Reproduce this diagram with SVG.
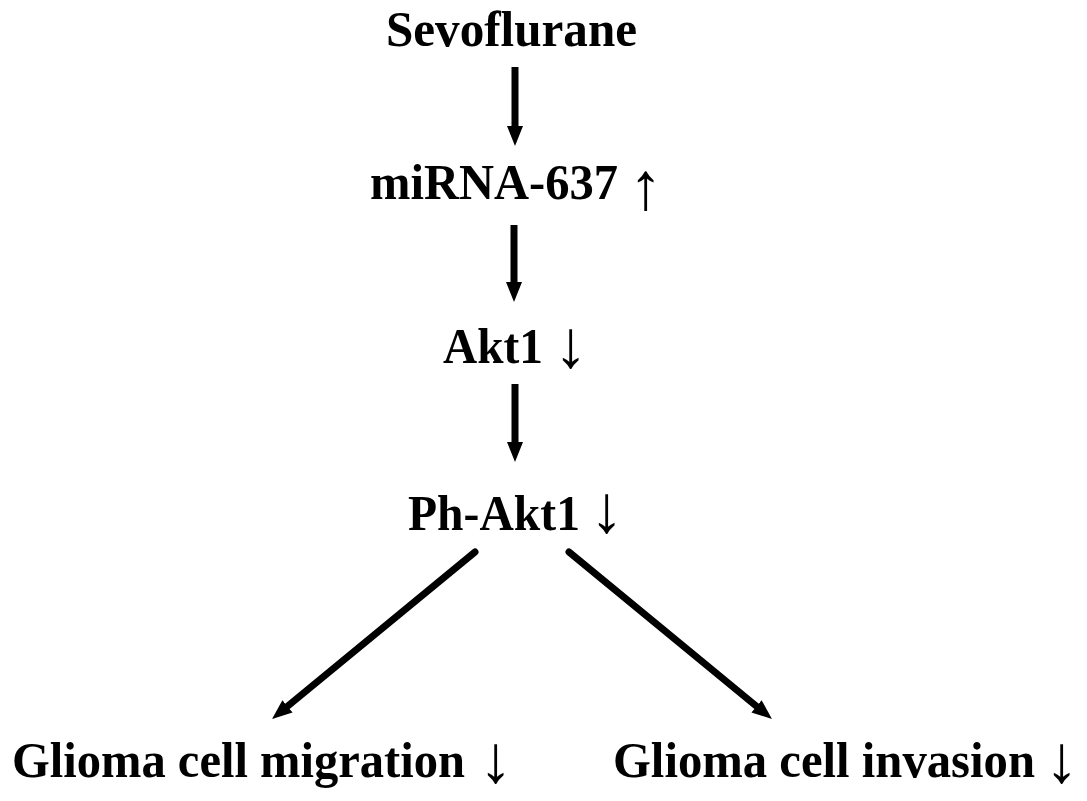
<svg xmlns="http://www.w3.org/2000/svg" width="1087" height="801" viewBox="0 0 1087 801">
<style>
.t{font-family:"Liberation Serif","Times New Roman",serif;font-weight:bold;font-size:50px;fill:#000}
.a{font-family:"Liberation Serif","Times New Roman",serif;font-weight:normal;font-size:67px;fill:#000}
.c{stroke:#000;stroke-width:7;fill:none}
</style>
<defs>
<marker id="ah" markerUnits="userSpaceOnUse" markerWidth="20" markerHeight="16" viewBox="0 0 20 16" refX="8" refY="8" orient="auto">
<path d="M0,0 L20,8 L0,16 z" fill="#000"/>
</marker>
</defs>
<rect width="1087" height="801" fill="#fff"/>
<g id="connectors">
<line class="c" x1="515" y1="67" x2="515" y2="134" marker-end="url(#ah)"/>
<line class="c" x1="514" y1="225" x2="514" y2="290" marker-end="url(#ah)"/>
<line class="c" x1="515" y1="384" x2="515" y2="450" marker-end="url(#ah)"/>
<line class="c" stroke-linecap="round" x1="475" y1="552" x2="281.3" y2="711.4" marker-end="url(#ah)"/>
<line class="c" stroke-linecap="round" x1="569" y1="552" x2="762.7" y2="711.4" marker-end="url(#ah)"/>
</g>
<g id="sevoflurane"><text class="t" x="386" y="46" textLength="251" lengthAdjust="spacingAndGlyphs">Sevoflurane</text></g>
<g id="mirna"><text class="t" x="370" y="199" textLength="248" lengthAdjust="spacingAndGlyphs">miRNA-637</text><text class="a" x="629" y="209">↑</text></g>
<g id="akt1"><text class="t" x="443" y="363" textLength="100" lengthAdjust="spacingAndGlyphs">Akt1</text><text class="a" x="554" y="367">↓</text></g>
<g id="phakt1"><text class="t" x="408" y="530" textLength="172" lengthAdjust="spacingAndGlyphs">Ph-Akt1</text><text class="a" x="590" y="532">↓</text></g>
<g id="migration"><text class="t" x="12" y="777" textLength="453" lengthAdjust="spacingAndGlyphs">Glioma cell migration</text><text class="a" x="479" y="782">↓</text></g>
<g id="invasion"><text class="t" x="613" y="777" textLength="422" lengthAdjust="spacingAndGlyphs">Glioma cell invasion</text><text class="a" x="1045" y="782">↓</text></g>
</svg>
